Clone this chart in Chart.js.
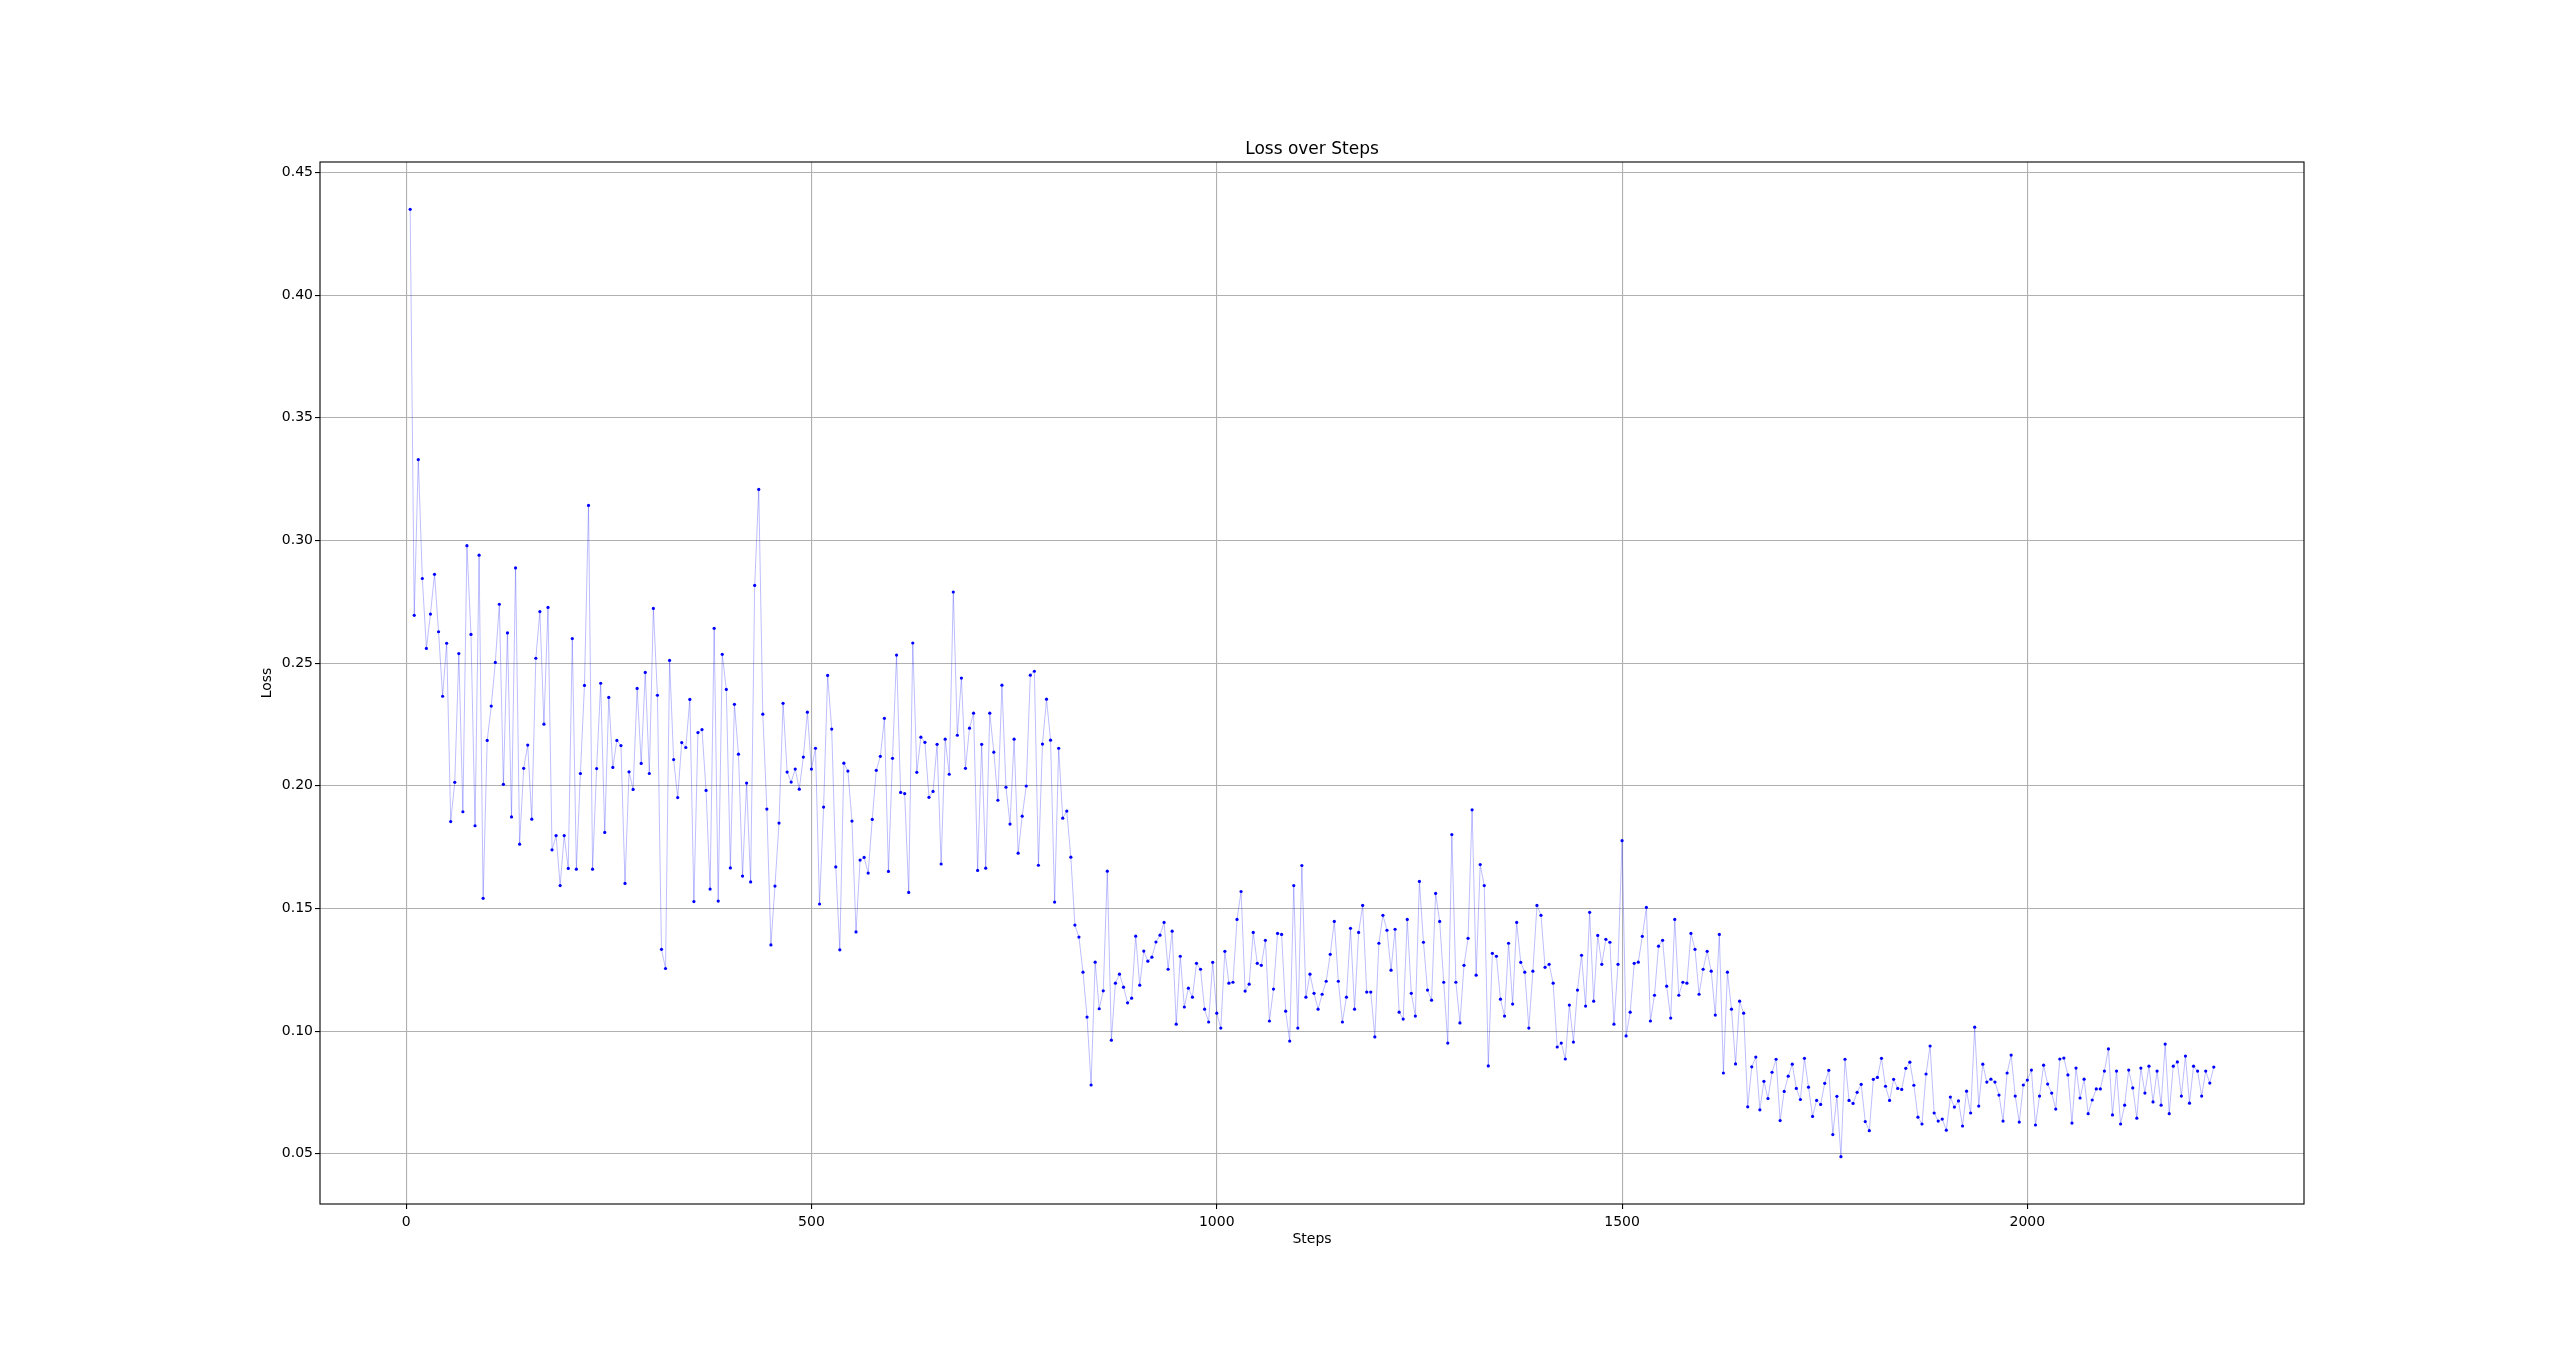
<!DOCTYPE html>
<html>
<head>
<meta charset="utf-8">
<title>Loss over Steps</title>
<script src="https://cdn.jsdelivr.net/npm/chart.js@4"></script>
<style>
  html, body { margin: 0; padding: 0; background: #fff; }
  #wrap { width: 2560px; height: 1353px; }
</style>
</head>
<body>
<div id="wrap"><canvas id="lossChart"></canvas></div>
<script>
// training steps (logged every 5 steps)
const steps = [
    5, 10, 15, 20, 25, 30, 35, 40, 45, 50, 55, 60, 65, 70, 75, 80, 85, 90, 95, 100,
    105, 110, 115, 120, 125, 130, 135, 140, 145, 150, 155, 160, 165, 170, 175, 180, 185, 190, 195, 200,
    205, 210, 215, 220, 225, 230, 235, 240, 245, 250, 255, 260, 265, 270, 275, 280, 285, 290, 295, 300,
    305, 310, 315, 320, 325, 330, 335, 340, 345, 350, 355, 360, 365, 370, 375, 380, 385, 390, 395, 400,
    405, 410, 415, 420, 425, 430, 435, 440, 445, 450, 455, 460, 465, 470, 475, 480, 485, 490, 495, 500,
    505, 510, 515, 520, 525, 530, 535, 540, 545, 550, 555, 560, 565, 570, 575, 580, 585, 590, 595, 600,
    605, 610, 615, 620, 625, 630, 635, 640, 645, 650, 655, 660, 665, 670, 675, 680, 685, 690, 695, 700,
    705, 710, 715, 720, 725, 730, 735, 740, 745, 750, 755, 760, 765, 770, 775, 780, 785, 790, 795, 800,
    805, 810, 815, 820, 825, 830, 835, 840, 845, 850, 855, 860, 865, 870, 875, 880, 885, 890, 895, 900,
    905, 910, 915, 920, 925, 930, 935, 940, 945, 950, 955, 960, 965, 970, 975, 980, 985, 990, 995, 1000,
    1005, 1010, 1015, 1020, 1025, 1030, 1035, 1040, 1045, 1050, 1055, 1060, 1065, 1070, 1075, 1080, 1085, 1090, 1095, 1100,
    1105, 1110, 1115, 1120, 1125, 1130, 1135, 1140, 1145, 1150, 1155, 1160, 1165, 1170, 1175, 1180, 1185, 1190, 1195, 1200,
    1205, 1210, 1215, 1220, 1225, 1230, 1235, 1240, 1245, 1250, 1255, 1260, 1265, 1270, 1275, 1280, 1285, 1290, 1295, 1300,
    1305, 1310, 1315, 1320, 1325, 1330, 1335, 1340, 1345, 1350, 1355, 1360, 1365, 1370, 1375, 1380, 1385, 1390, 1395, 1400,
    1405, 1410, 1415, 1420, 1425, 1430, 1435, 1440, 1445, 1450, 1455, 1460, 1465, 1470, 1475, 1480, 1485, 1490, 1495, 1500,
    1505, 1510, 1515, 1520, 1525, 1530, 1535, 1540, 1545, 1550, 1555, 1560, 1565, 1570, 1575, 1580, 1585, 1590, 1595, 1600,
    1605, 1610, 1615, 1620, 1625, 1630, 1635, 1640, 1645, 1650, 1655, 1660, 1665, 1670, 1675, 1680, 1685, 1690, 1695, 1700,
    1705, 1710, 1715, 1720, 1725, 1730, 1735, 1740, 1745, 1750, 1755, 1760, 1765, 1770, 1775, 1780, 1785, 1790, 1795, 1800,
    1805, 1810, 1815, 1820, 1825, 1830, 1835, 1840, 1845, 1850, 1855, 1860, 1865, 1870, 1875, 1880, 1885, 1890, 1895, 1900,
    1905, 1910, 1915, 1920, 1925, 1930, 1935, 1940, 1945, 1950, 1955, 1960, 1965, 1970, 1975, 1980, 1985, 1990, 1995, 2000,
    2005, 2010, 2015, 2020, 2025, 2030, 2035, 2040, 2045, 2050, 2055, 2060, 2065, 2070, 2075, 2080, 2085, 2090, 2095, 2100,
    2105, 2110, 2115, 2120, 2125, 2130, 2135, 2140, 2145, 2150, 2155, 2160, 2165, 2170, 2175, 2180, 2185, 2190, 2195, 2200,
    2205, 2210, 2215, 2220, 2225, 2230
];

// loss
const loss = [
    // 5 - 180
    0.435, 0.2695, 0.333, 0.2845, 0.256, 0.270, 0.2862, 0.2628, 0.2365, 0.2581, 0.1854, 0.2014,
    0.2539, 0.1894, 0.2979, 0.2617, 0.1837, 0.294, 0.1541, 0.2185, 0.2325, 0.2503, 0.274, 0.2006,
    0.2623, 0.1873, 0.2888, 0.1762, 0.2071, 0.2166, 0.1864, 0.252, 0.271, 0.2251, 0.2727, 0.1739,
    // 185 - 370
    0.1797, 0.1593, 0.1797, 0.1663, 0.260, 0.166, 0.205, 0.2409, 0.3143, 0.166,
    0.207, 0.2418, 0.181, 0.236, 0.2075, 0.2185, 0.2164, 0.1602, 0.2057, 0.1985,
    0.2397, 0.2091, 0.2462, 0.205, 0.2723, 0.2369, 0.1333, 0.1255, 0.2511, 0.2107,
    0.1952, 0.2176, 0.2156, 0.2352, 0.1528, 0.2217, 0.2229, 0.1981,
    // 375 - 555
    0.1579, 0.2642, 0.153, 0.2536, 0.2393, 0.1665, 0.2332, 0.2129, 0.1632, 0.2011,
    0.1608, 0.2817, 0.3208, 0.2292, 0.1905, 0.1351, 0.1591, 0.1848, 0.2336, 0.2056,
    0.2015, 0.2068, 0.1986, 0.2117, 0.230, 0.2068, 0.2153, 0.1518, 0.1913, 0.245,
    0.2231, 0.1669, 0.1331, 0.2092, 0.206, 0.1856, 0.1404,
    // 560 - 740
    0.1697, 0.1708, 0.1644, 0.1863, 0.2063, 0.212, 0.2275, 0.1651, 0.2112, 0.2533,
    0.1973, 0.1968, 0.1565, 0.2582, 0.2055, 0.2198, 0.2177, 0.1953, 0.1977, 0.2169,
    0.1681, 0.219, 0.2047, 0.279, 0.2206, 0.2439, 0.2071, 0.2235, 0.2296, 0.1655,
    0.2169, 0.1664, 0.2296, 0.2137, 0.1941, 0.241, 0.1994,
    // 745 - 930
    0.1844, 0.219, 0.1725, 0.1876, 0.1999, 0.2451, 0.2467, 0.1676, 0.217, 0.2353,
    0.2186, 0.1526, 0.2153, 0.1868, 0.1897, 0.1709, 0.1432, 0.1383, 0.124, 0.1057,
    0.078, 0.1281, 0.1091, 0.1164, 0.1652, 0.0963, 0.1195, 0.1232, 0.1179, 0.1115,
    0.1134, 0.1387, 0.1187, 0.1326, 0.1285, 0.1301, 0.1363, 0.1391,
    // 935 - 1115
    0.1443, 0.1252, 0.1407, 0.1028, 0.1305, 0.1098, 0.1175, 0.1138, 0.1276, 0.1252,
    0.1089, 0.1037, 0.128, 0.1073, 0.1012, 0.1325, 0.1195, 0.1199, 0.1455, 0.1569,
    0.1163, 0.1191, 0.1402, 0.1276, 0.1268, 0.137, 0.1041, 0.1171, 0.1398, 0.1394,
    0.1081, 0.0959, 0.1593, 0.1012, 0.1675, 0.1138, 0.1232,
    // 1120 - 1300
    0.1154, 0.1089, 0.115, 0.1203, 0.1313, 0.1447, 0.1203, 0.1037, 0.1138, 0.1419,
    0.1089, 0.1402, 0.1512, 0.1159, 0.1159, 0.0976, 0.1358, 0.1472, 0.1411, 0.1248,
    0.1415, 0.1077, 0.1049, 0.1455, 0.1154, 0.1061, 0.161, 0.1362, 0.1167, 0.1126,
    0.1561, 0.1447, 0.1199, 0.0951, 0.1801, 0.1199, 0.1033,
    // 1305 - 1485
    0.1268, 0.1378, 0.1902, 0.1228, 0.1679, 0.1593, 0.0858, 0.1317, 0.1305, 0.113,
    0.1061, 0.1358, 0.111, 0.1443, 0.128, 0.124, 0.1012, 0.1244, 0.1512, 0.1472,
    0.126, 0.1272, 0.1195, 0.0935, 0.0951, 0.0886, 0.1106, 0.0955, 0.1167, 0.1309,
    0.1102, 0.1484, 0.1122, 0.139, 0.1272, 0.1374, 0.1362,
    // 1490 - 1670
    0.1028, 0.1272, 0.1776, 0.098, 0.1077, 0.1276, 0.1281, 0.1386, 0.1504, 0.1041,
    0.1146, 0.1346, 0.137, 0.1183, 0.1053, 0.1455, 0.1146, 0.1199, 0.1195, 0.1398,
    0.1333, 0.115, 0.1252, 0.1325, 0.1244, 0.1065, 0.1394, 0.0829, 0.124, 0.1089,
    0.0866, 0.1122, 0.1073, 0.0691, 0.0854, 0.0894, 0.0679,
    // 1675 - 1860
    0.0795, 0.0725, 0.0832, 0.0885, 0.0635, 0.0754, 0.0816, 0.0865, 0.0766, 0.0721,
    0.0889, 0.0771, 0.0652, 0.0717, 0.0701, 0.0787, 0.084, 0.0578, 0.0734, 0.0488,
    0.0885, 0.0717, 0.0705, 0.075, 0.0783, 0.0631, 0.0594, 0.0803, 0.0811, 0.0889,
    0.0775, 0.0717, 0.0803, 0.0766, 0.0762, 0.0848, 0.0873, 0.0779,
    // 1865 - 2045
    0.0649, 0.0621, 0.0825, 0.0939, 0.0666, 0.0633, 0.0641, 0.0596, 0.0731, 0.069,
    0.0715, 0.0613, 0.0755, 0.0666, 0.1016, 0.0694, 0.0865, 0.0792, 0.0804, 0.0792,
    0.0739, 0.0633, 0.0829, 0.0902, 0.0735, 0.0629, 0.078, 0.080, 0.0841, 0.0617,
    0.0735, 0.0861, 0.0784, 0.0747, 0.0682, 0.0886, 0.089,
    // 2050 - 2230
    0.0821, 0.0625, 0.0849, 0.0727, 0.0804, 0.0663, 0.0719, 0.0764, 0.0764, 0.0837,
    0.0927, 0.0658, 0.0837, 0.0621, 0.0698, 0.0841, 0.0768, 0.0645, 0.0849, 0.0747,
    0.0857, 0.0711, 0.0837, 0.0698, 0.0947, 0.0663, 0.0857, 0.0874, 0.0735, 0.0898,
    0.0706, 0.0857, 0.0837, 0.0735, 0.0837, 0.0788, 0.0853
];

const xTicks = [0, 500, 1000, 1500, 2000];
const yTicks = [0.05, 0.10, 0.15, 0.20, 0.25, 0.30, 0.35, 0.40, 0.45];
const chartTitle = 'Loss over Steps';

// matplotlib style 5% margins around the data
function paddedRange(values) {
    const lo = Math.min(...values);
    const hi = Math.max(...values);
    const pad = (hi - lo) * 0.05;
    return [lo - pad, hi + pad];
}
const [xMin, xMax] = paddedRange(steps);
const [yMin, yMax] = paddedRange(loss);

const points = steps.map((s, i) => ({ x: s, y: loss[i] }));

const font = 'DejaVu Sans';

// black frame round the plot area, and the title centred over it
const frame = {
    id: 'frame',
    afterDraw(chart) {
        const { ctx, chartArea: a } = chart;
        ctx.save();
        ctx.strokeStyle = '#000';
        ctx.lineWidth = 1.1;
        ctx.strokeRect(a.left, a.top, a.right - a.left, a.bottom - a.top);
        ctx.fillStyle = '#000';
        ctx.font = '17px "' + font + '"';
        ctx.textAlign = 'center';
        ctx.textBaseline = 'middle';
        ctx.fillText(chartTitle, (a.left + a.right) / 2, a.top - 12.5);
        ctx.restore();
    }
};

const ctx = document.getElementById('lossChart').getContext('2d');

new Chart(ctx, {
    type: 'line',
    data: {
        datasets: [
            {
                label: 'Loss',
                data: points,
                borderColor: 'rgba(0, 0, 255, 0.26)',
                borderWidth: 1,
                tension: 0,
                pointRadius: 1.6,
                pointBorderWidth: 0,
                pointBackgroundColor: '#0000ff',
                fill: false
            }
        ]
    },
    options: {
        responsive: true,
        maintainAspectRatio: false,
        devicePixelRatio: 1,
        animation: false,
        layout: {
            padding: { left: 240, right: 256, top: 162, bottom: 99 }
        },
        plugins: {
            legend: { display: false },
            tooltip: { enabled: false },
            title: { display: false }
        },
        scales: {
            x: {
                type: 'linear',
                min: xMin,
                max: xMax,
                afterBuildTicks: (scale) => {
                    scale.ticks = xTicks.map(v => ({ value: v }));
                },
                afterFit: (scale) => { scale.height = 50; },
                ticks: {
                    color: '#000',
                    font: { family: font, size: 14 },
                    padding: 5,
                    maxRotation: 0,
                    callback: (v) => String(v)
                },
                grid: {
                    color: '#b0b0b0',
                    lineWidth: 1.1,
                    tickLength: 5,
                    tickColor: '#000',
                    tickWidth: 1.1
                },
                border: { display: false },
                title: {
                    display: true,
                    text: 'Steps',
                    color: '#000',
                    font: { family: font, size: 14 },
                    padding: { top: 0, bottom: 6 }
                }
            },
            y: {
                type: 'linear',
                min: yMin,
                max: yMax,
                afterBuildTicks: (scale) => {
                    scale.ticks = yTicks.map(v => ({ value: v }));
                },
                afterFit: (scale) => { scale.width = 80; },
                ticks: {
                    color: '#000',
                    font: { family: font, size: 14 },
                    padding: 2,
                    callback: (v) => v.toFixed(2)
                },
                grid: {
                    color: '#b0b0b0',
                    lineWidth: 1.1,
                    tickLength: 5,
                    tickColor: '#000',
                    tickWidth: 1.1
                },
                border: { display: false },
                title: {
                    display: true,
                    text: 'Loss',
                    color: '#000',
                    font: { family: font, size: 14 },
                    padding: { top: 18.5, bottom: 0 }
                }
            }
        }
    },
    plugins: [frame]
});
</script>
</body>
</html>
